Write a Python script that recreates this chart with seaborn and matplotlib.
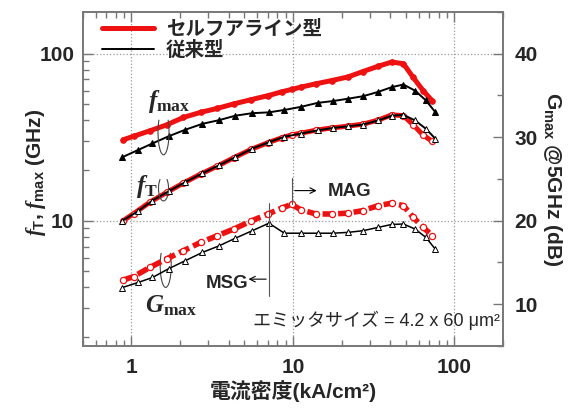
import numpy as np
import pandas as pd
import matplotlib
matplotlib.use('Agg')
import matplotlib.pyplot as plt
import seaborn as sns
from matplotlib.lines import Line2D
from matplotlib.patches import Arc
from matplotlib.transforms import ScaledTranslation
from matplotlib.ticker import MultipleLocator, NullFormatter

# current density (kA/cm2) of the measured points
x_sa = [0.89, 1.03, 1.3, 1.66, 2.1, 2.68, 3.4, 4.3, 5.5, 7.0, 8.5, 9.8,
        11.2, 13.9, 17.4, 21.9, 27.0, 33.7, 40.9, 48.3, 55.5, 64.0, 73.0]
x_conv = [0.88, 1.1, 1.35, 1.7, 2.15, 2.75, 3.5, 4.4, 5.6, 7.1, 8.85,
          11.2, 14.2, 17.7, 21.9, 27.2, 33.7, 40.9, 48.3, 57.0, 66.5, 76.0]

# self-aligned (GHz / dB)
fmax_sa = [30.5, 32, 34.5, 37.5, 41.5, 44.5, 47, 50, 53, 56, 59, 61,
           63, 66, 69, 72.5, 78, 84, 89, 87, 72, 60, 52]
ft_sa = [10, 11, 12.9, 14.8, 16.8, 19, 21.2, 23.8, 26.7, 29.3, 31.3, 32.6,
         33.4, 34.8, 35.9, 36.8, 37.8, 40, 43, 42.5, 37.5, 32.5, 29.8]
gmax_sa = [12.9, 13.3, 14.4, 15.45, 16.4, 17.4, 18.2, 19.0, 19.95, 20.8, 21.5, 21.95,
           21.3, 20.8, 20.8, 20.9, 21.2, 21.8, 22.1, 21.8, 20.4, 19.2, 18.2]

# conventional (GHz / dB)
fmax_conv = [24, 26.5, 29, 32, 35, 38, 40, 42.5, 44, 44.5, 46,
             48, 50.7, 52, 53.7, 55.6, 59, 63, 65.3, 60, 52.5, 44.7]
ft_conv = [10, 11.4, 13.2, 15, 17, 19.2, 21.5, 24, 27, 29.5, 31.8,
           33.2, 34.7, 35.9, 36.7, 37.6, 39.8, 42.5, 43, 39.8, 35.5, 31]
gmax_conv = [12.0, 12.6, 13.2, 14.25, 15.2, 16.2, 17.0, 17.9, 18.8, 19.7, 18.5,
             18.5, 18.5, 18.5, 18.6, 18.8, 19.2, 19.55, 19.6, 19.0, 18.0, 16.6]

legend_labels = ['セルフアライン型', '従来型']

sns.set_style('ticks')
plt.rcParams['font.family'] = ['Liberation Sans', 'Noto Sans CJK JP', 'DejaVu Sans']
plt.rcParams['font.weight'] = 'bold'
plt.rcParams['axes.labelweight'] = 'bold'
plt.rcParams['mathtext.fontset'] = 'custom'
plt.rcParams['mathtext.it'] = 'Liberation Serif:italic:bold'
plt.rcParams['mathtext.rm'] = 'Liberation Serif:bold'
plt.rcParams['mathtext.bf'] = 'Liberation Serif:bold'
plt.rcParams['mathtext.sf'] = 'Liberation Sans:bold'

red = '#ee1111'
frame = '#777777'

fig, ax = plt.subplots(figsize=(5.75, 4.08), dpi=100)
fig.subplots_adjust(left=0.144, right=0.875, top=0.971, bottom=0.152)
ax2 = ax.twinx()

# fT / fmax on the left log axis
sns.lineplot(x=x_sa, y=fmax_sa, ax=ax, color=red, linewidth=3.6, marker='o',
             markersize=4, markerfacecolor=red, markeredgecolor=red, sort=False, zorder=3)
sns.lineplot(x=x_conv, y=fmax_conv, ax=ax, color='black', linewidth=1.4, marker='^',
             markersize=4.5, markerfacecolor='black', markeredgecolor='black', sort=False, zorder=4)
sns.lineplot(x=x_sa, y=ft_sa, ax=ax, color=red, linewidth=3.6, marker='o',
             markersize=4.3, markerfacecolor='white', markeredgecolor=red, markeredgewidth=0.9,
             sort=False, zorder=3)
sns.lineplot(x=x_conv, y=ft_conv, ax=ax, color='black', linewidth=1.4, marker='^',
             markersize=4.6, markerfacecolor='white', markeredgecolor='black', markeredgewidth=0.7,
             sort=False, zorder=4)

# Gmax on the right dB axis
sns.lineplot(x=x_sa, y=gmax_sa, ax=ax2, color=red, linewidth=4, linestyle=(0, (2, 0.8)),
             marker='o', markersize=4.5, markerfacecolor='white', markeredgecolor=red,
             markeredgewidth=0.9, sort=False, zorder=3)
sns.lineplot(x=x_conv, y=gmax_conv, ax=ax2, color='black', linewidth=1.1, marker='^',
             markersize=4.6, markerfacecolor='white', markeredgecolor='black', markeredgewidth=0.7,
             sort=False, zorder=4)

ax.set_xscale('log')
ax.set_yscale('log')
ax.set_xlim(0.5, 200)
ax.set_ylim(10 ** (5 / 20), 10 ** (45 / 20))
ax2.set_ylim(5, 45)

ax.set_xticks([1, 10, 100])
ax.set_xticklabels(['1', '10', '100'])
ax.set_yticks([10, 100])
ax.set_yticklabels(['10', '100'])
ax.xaxis.set_minor_formatter(NullFormatter())
ax.yaxis.set_minor_formatter(NullFormatter())
ax2.yaxis.set_major_locator(MultipleLocator(10))
ax2.yaxis.set_minor_locator(MultipleLocator(5))

ax.grid(which='major', linestyle=':', color='#999999', linewidth=0.9)
ax2.grid(False)

ax.tick_params(which='both', direction='in', top=True, right=False, color=frame, width=1)
ax.tick_params(which='major', length=7, labelsize=15, pad=6)
ax.tick_params(which='minor', length=4)
ax.tick_params(axis='x', which='major', pad=9)
ax2.tick_params(which='both', direction='in', right=True, left=False, top=False,
                color=frame, width=1)
ax2.tick_params(which='major', length=7, labelsize=15, pad=8)
ax2.tick_params(which='minor', length=4)
for a in (ax, ax2):
    for s in a.spines.values():
        s.set_color(frame)
        s.set_linewidth(1.2)

ax.set_xlabel('電流密度(kA/cm²)', fontsize=15, labelpad=2)
ax.set_ylabel(r'$f_{\mathsf{T}}$, $f_{\mathsf{max}}$ (GHz)', fontsize=15)
ax.yaxis.set_label_coords(-0.082, 0.52)
ax2.set_ylabel(r'G$_{\mathsf{max}}$ @5GHz (dB)', fontsize=15, rotation=270, labelpad=19)

handles = [Line2D([], [], color=red, linewidth=3.6), Line2D([], [], color='black', linewidth=1.4)]
ax2.legend(handles, legend_labels, loc='upper left', bbox_to_anchor=(0.045, 0.975),
           frameon=False, handlelength=2.7, handletextpad=0.6,
           labelspacing=0.1, borderaxespad=0, borderpad=0,
           prop={'family': ['Noto Sans CJK JP'], 'weight': 'bold', 'size': 14})

# curve labels and loops
ax.text(1.27, 52, r'$f_{\mathbf{max}}$', fontsize=18, ha='left', va='center')
ax.text(1.07, 16, r'$f_{\mathbf{T}}$', fontsize=18, ha='left', va='center')
ax.text(1.22, 3.1, r'$G_{\mathbf{max}}$', fontsize=18, ha='left', va='center')


def loop(x, y, w, h):
    tr = fig.dpi_scale_trans + ScaledTranslation(x, y, ax.transData)
    ax.add_patch(Arc((0, 0), w, h, theta1=110, theta2=430, transform=tr,
                     color='#444444', linewidth=0.8, clip_on=False, zorder=5))


loop(1.58, 33.8, 0.11, 0.45)
loop(1.58, 15.6, 0.10, 0.25)
loop(1.63, 5.4, 0.11, 0.44)

# MSG / MAG markers
ax2.plot([7.1, 7.1], [11.0, 22.1], color='#555555', linewidth=0.8, zorder=5)
ax2.annotate('', xy=(5.1, 13.0), xytext=(7.1, 13.0),
             arrowprops=dict(arrowstyle='->', color='black', lw=0.8))
ax2.text(5.3, 12.5, 'MSG', ha='right', va='center', fontsize=13.5, fontweight='bold')
ax2.plot([9.85, 9.85], [21.95, 25.1], color='#555555', linewidth=0.8, zorder=5)
ax2.annotate('', xy=(14.6, 23.6), xytext=(9.85, 23.6),
             arrowprops=dict(arrowstyle='->', color='black', lw=0.8))
ax2.text(16.4, 23.5, 'MAG', ha='left', va='center', fontsize=13.5, fontweight='bold')

ax.text(0.993, 0.078, 'エミッタサイズ = 4.2 x 60 μm²', transform=ax.transAxes,
        ha='right', va='center', fontsize=13, fontweight='normal',
        family=['Liberation Sans', 'Noto Sans CJK JP'])

fig.savefig('out.png', dpi=100)
